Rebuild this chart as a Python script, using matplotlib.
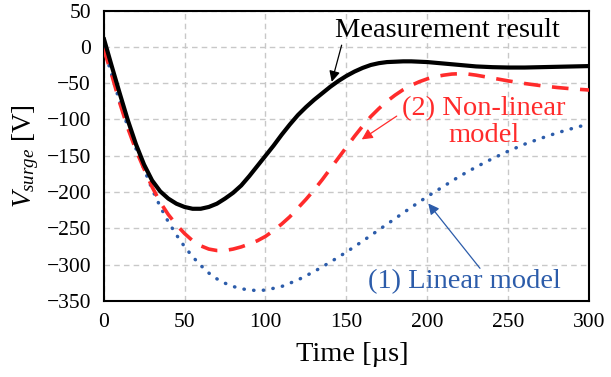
import matplotlib
matplotlib.use("Agg")
import matplotlib.pyplot as plt

plt.rcParams['font.family'] = ['Liberation Serif', 'DejaVu Serif']
plt.rcParams['mathtext.fontset'] = 'custom'
plt.rcParams['mathtext.rm'] = 'Liberation Serif'
plt.rcParams['mathtext.it'] = 'Liberation Serif:italic'

# Measurement result (black)
t_meas = [0, 5, 10, 15, 20, 25, 30, 35, 40, 45, 50, 55, 60, 65, 70, 75, 80, 85, 90, 95,
          100, 105, 110, 115, 120, 125, 130, 135, 140, 145, 150, 155, 160, 165, 170, 175,
          180, 185, 190, 200, 210, 220, 230, 240, 250, 260, 270, 280, 290, 300]
v_meas = [13, -26, -64, -101, -134, -162, -184, -199, -209, -216, -220.5, -223, -223, -220.5, -216, -209, -201, -191, -178, -164,
          -150, -136, -121, -107, -94, -83, -73, -64, -55, -47, -40, -34, -29, -25, -22.5, -21,
          -20.5, -20, -20, -21, -23, -25, -27, -28, -28.5, -28.5, -28, -27.5, -27, -26.5]

# (2) Non-linear model (red dashed)
t_nl = [0, 5, 10, 15, 20, 25, 30, 35, 40, 45, 50, 55, 60, 65, 70, 75, 80, 85, 90, 95,
        100, 105, 110, 115, 120, 125, 130, 135, 140, 145, 150, 155, 160, 165, 170, 175, 180,
        185, 190, 195, 200, 205, 210, 215, 220, 225, 230, 240, 250, 260, 270, 280, 290, 300]
v_nl = [-2, -38, -77, -112, -142, -168, -193, -214, -231, -245, -257, -267, -274, -278.5, -280.5, -280.5, -278.5, -275.5, -271.5, -267,
        -261, -253, -244, -234, -222, -210, -197, -183, -168, -153, -138, -123, -109, -96, -85, -75, -66.5,
        -59, -53, -48, -44, -41, -39, -37.5, -37, -37.5, -39, -43, -47, -50.5, -53.5, -56, -58, -59.5]

# (1) Linear model (blue dotted)
t_lin = [0, 5, 10, 15, 20, 25, 30, 35, 40, 45, 50, 55, 60, 65, 70, 75, 80, 85, 90, 95,
         100, 110, 120, 130, 140, 150, 160, 170, 180, 190, 200, 210, 220, 230, 240, 250,
         260, 270, 280, 290, 300]
v_lin = [0, -38, -76, -110, -140, -168, -196, -220, -241, -259, -275, -289, -301, -311.5, -319.5, -325.5, -330, -333, -335, -335.5,
         -335, -330, -321, -309.5, -296.5, -282.5, -267.5, -252, -236.5, -221, -206, -192, -178, -165.5, -154, -143.5,
         -134, -126, -118.5, -112, -106]

x_ticks = [0, 50, 100, 150, 200, 250, 300]
y_ticks = [-350, -300, -250, -200, -150, -100, -50, 0, 50]

RED = '#FF2B2B'
BLUE = '#2C5CAA'

fig = plt.figure(figsize=(6.11, 3.77), dpi=100)
ax = fig.add_axes([0.1694, 0.2016, 0.9648 - 0.1694, 0.9721 - 0.2016])

ax.plot(t_lin, v_lin, color=BLUE, lw=2.5, linestyle=(0, (0.1, 2.7)),
        dash_capstyle='round', zorder=3)
ax.plot(t_nl, v_nl, color=RED, lw=2.6, linestyle=(0, (4.6, 3.2)),
        dash_capstyle='butt', zorder=4)
ax.plot(t_meas, v_meas, color='black', lw=3.0, zorder=5, solid_capstyle='butt',
        solid_joinstyle='round')

ax.set_xlim(0, 300)
ax.set_ylim(-350, 50)
ax.set_xticks(x_ticks)
ax.set_yticks(y_ticks)
ax.tick_params(axis='both', length=0, labelsize=15.5)
ax.tick_params(axis='x', pad=9)
ax.tick_params(axis='y', pad=9)
ax.grid(True, color='#c8c8c8', linestyle=(0, (4, 3)), lw=1.0)
ax.set_axisbelow(True)
for s in ax.spines.values():
    s.set_linewidth(1.5)
    s.set_color('black')

ax.set_xlabel('Time [µs]', fontsize=20.5)
ax.xaxis.set_label_coords(0.512, -0.14, transform=ax.transAxes)
ax.xaxis.label.set_va('top')
ax.set_ylabel(r'$V_{surge}$ [V]', fontsize=19.5, labelpad=4)

# Annotations
ax.text(212.3, 13, 'Measurement result', fontsize=20.5, color='black',
        ha='center', va='baseline', zorder=6)
ax.annotate('', xy=(140.9, -48.2), xytext=(147, 2.3),
            arrowprops=dict(arrowstyle='-|>', color='black', lw=0.9,
                            mutation_scale=16, shrinkA=0, shrinkB=0), zorder=6)

ax.text(234.6, -94, '(2) Non-linear', fontsize=20.5, color=RED,
        ha='center', va='baseline', zorder=6)
ax.text(234.6, -131, 'model', fontsize=20.5, color=RED,
        ha='center', va='baseline', zorder=6)
ax.annotate('', xy=(159.4, -127.5), xytext=(181, -95.4),
            arrowprops=dict(arrowstyle='-|>', color=RED, lw=0.9,
                            mutation_scale=16, shrinkA=0, shrinkB=0), zorder=6)

ax.text(222.5, -332.8, '(1) Linear model', fontsize=20.5, color=BLUE,
        ha='center', va='baseline', zorder=6)
ax.annotate('', xy=(200.5, -215.7), xytext=(232.4, -305),
            arrowprops=dict(arrowstyle='-|>', color=BLUE, lw=0.9,
                            mutation_scale=16, shrinkA=0, shrinkB=0), zorder=6)

fig.savefig('out.png', dpi=100)
